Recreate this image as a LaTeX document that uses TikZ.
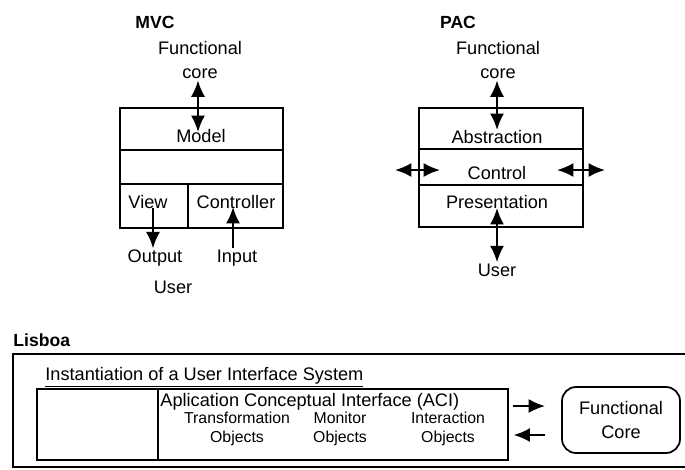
\documentclass[tikz,border=0pt]{standalone}
\usepackage{fontspec}
\setmainfont{Liberation Sans}
\usetikzlibrary{arrows.meta}

\tikzset{
	cell/.style = {draw, line width=1.5pt, inner sep=0pt},
	lbl/.style = {font=\fontsize{15.5}{21}\selectfont, inner sep=1pt, align=center},
	small/.style = {font=\fontsize{13.5}{16}\selectfont, inner sep=1pt, align=center},
	ttl/.style = {font=\fontsize{15}{18}\selectfont\bfseries, inner sep=1pt},
	flow/.style = {line width=1.8pt, -{Latex[length=14pt,width=12pt]}},
	both/.style = {line width=1.8pt, {Latex[length=14pt,width=12pt]}-{Latex[length=14pt,width=12pt]}}
}

\begin{document}
\begin{tikzpicture}[x=0.03cm, y=-0.03cm]
	\useasboundingbox (0,0) rectangle (685,469);

	\node [ttl] (mvc) at (155,22) {MVC};
	\node [lbl] (fc1) at (200,60) {Functional\\core};
	\node [cell, minimum width=4.89cm, minimum height=1.26cm] (model) at (201.5,129) {};
	\node [cell, minimum width=4.89cm, minimum height=1.02cm] (mid) at (201.5,167) {};
	\node [cell, minimum width=2.04cm, minimum height=1.32cm] (view) at (154,206) {};
	\node [cell, minimum width=2.85cm, minimum height=1.32cm] (ctrl) at (235.5,206) {};
	\node [lbl] (modeltxt) at (201,136) {Model};
	\node [lbl] (viewtxt) at (148,202) {View};
	\node [lbl] (ctrltxt) at (236,202) {Controller};
	\node [lbl] (output) at (155,258) {Output};
	\node [lbl] (input) at (237,258) {Input};
	\node [lbl] (user1) at (173,287) {User};
	\coordinate (modelin) at (198,132);
	\coordinate (viewin) at (153,208);
	\coordinate (ctrlin) at (233,207);
	\draw [both] (fc1.south -| modelin) -- (modelin);
	\draw [flow] (viewin) -- (viewin |- output.north);
	\draw [flow] (ctrlin |- input.north) -- (ctrlin);

	\node [ttl] (pac) at (458,22) {PAC};
	\node [lbl] (fc2) at (498,60) {Functional\\core};
	\node [cell, minimum width=4.92cm, minimum height=1.23cm] (abs) at (501,128.5) {};
	\node [cell, minimum width=4.92cm, minimum height=1.08cm] (ctl) at (501,167) {};
	\node [cell, minimum width=4.92cm, minimum height=1.26cm] (pres) at (501,206) {};
	\node [lbl] (abstxt) at (497,137) {Abstraction};
	\node [lbl] (ctltxt) at (497,173) {Control};
	\node [lbl] (prestxt) at (497,202) {Presentation};
	\node [lbl] (user2) at (497,270) {User};
	\coordinate (absin) at (497,130);
	\coordinate (presin) at (497,208);
	\coordinate (leftout) at (395,170);
	\coordinate (leftin) at (440,170);
	\coordinate (rightin) at (557,170);
	\coordinate (rightout) at (605,170);
	\draw [both] (fc2.south -| absin) -- (absin);
	\draw [both] (presin) -- (presin |- user2.north);
	\draw [both] (leftout) -- (leftin);
	\draw [both] (rightin) -- (rightout);

	\node [ttl, anchor=west] (lisboa) at (12,340) {Lisboa};
	\draw [line width=1.5pt] (690,354) -- (13,354) -- (13,467) -- (690,467);
	\node [lbl, anchor=west] (inst) at (44,377) {\underline{Instantiation of a User Interface System}};
	\node [cell, minimum width=3.63cm, minimum height=2.13cm] (ui) at (97.5,424.5) {};
	\node [cell, minimum width=10.5cm, minimum height=2.13cm] (aci) at (333,424.5) {};
	\node [lbl, anchor=west] (acitxt) at (159,402) {Aplication Conceptual Interface (ACI)};
	\node [small] (trans) at (237,429) {Transformation\\Objects};
	\node [small] (monit) at (340,429) {Monitor\\Objects};
	\node [small] (inter) at (448,429) {Interaction\\Objects};
	\node [cell, rounded corners=12pt, minimum width=3.54cm, minimum height=1.98cm, lbl] (core) at (621,420) {Functional\\Core};
	\draw [flow] (aci.east |- 0,406) ++(4,0) -- (545,406);
	\draw [flow] (545,435) -- ([xshift=4pt]aci.east |- 0,435);
\end{tikzpicture}
\end{document}
